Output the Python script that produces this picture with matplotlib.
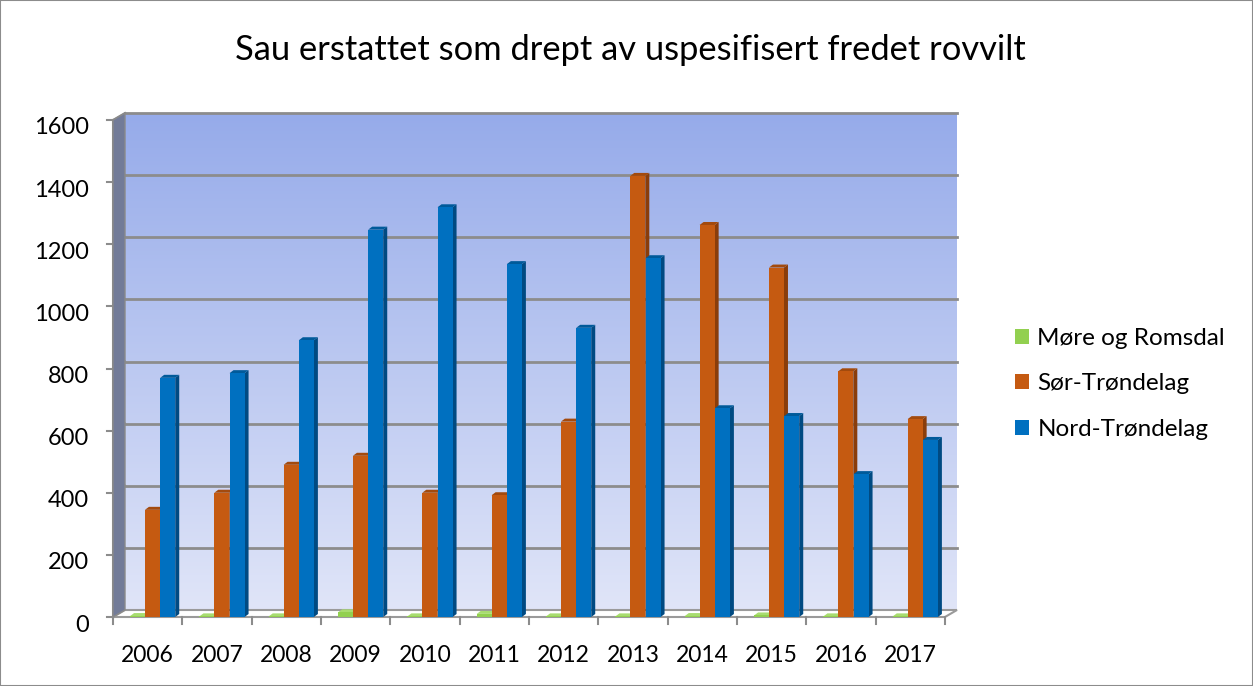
import numpy as np
import matplotlib.pyplot as plt
from matplotlib.patches import Polygon, Patch, Rectangle
from matplotlib.transforms import ScaledTranslation, IdentityTransform
from matplotlib.colors import LinearSegmentedColormap

plt.rcParams['font.family'] = ['Lato', 'DejaVu Sans']

# data
years = ['2006', '2007', '2008', '2009', '2010', '2011',
         '2012', '2013', '2014', '2015', '2016', '2017']
series_names = ['Møre og Romsdal', 'Sør-Trøndelag', 'Nord-Trøndelag']
more_romsdal = [3, 2, 2, 15, 2, 10, 2, 2, 3, 5, 2, 2]
sor_trondelag = [345, 400, 490, 519, 400, 392, 629, 1420, 1262, 1125, 791, 637]
nord_trondelag = [770, 785, 891, 1247, 1319, 1136, 931, 1155, 672, 647, 460, 570]

title = 'Sau erstattet som drept av uspesifisert fredet rovvilt'
yticks = [0, 200, 400, 600, 800, 1000, 1200, 1400, 1600]

front = ['#92D050', '#C55A11', '#0070C0']
side = ['#6E9E3A', '#8A3D0B', '#004A82']
top = ['#A8DC70', '#A34A0D', '#005A9A']

W, H = 1253, 686
fig = plt.figure(figsize=(W / 100, H / 100), dpi=100)
fig.patches.append(Rectangle((0, 0), 1, 1, transform=fig.transFigure, fill=False,
                             edgecolor='#8c8c8c', lw=1.5))

# front plane of the 3d box
ax = fig.add_axes([113 / W, 1 - 617 / H, 832 / W, 497 / H])
ax.set_xlim(-0.5, len(years) - 0.5)
ax.set_ylim(0, 1600)
ax.axis('off')

dx, dy = 12, 7  # depth offset of back wall, pixels
back = ax.transData + ScaledTranslation(dx / 100, dy / 100, fig.dpi_scale_trans)
px = IdentityTransform()

def to_px(x, y):
    return ax.transData.transform((x, y))

# back wall gradient
cmap = LinearSegmentedColormap.from_list('wall', ['#E0E5F8', '#96ABEA'])
grad = np.linspace(0, 1, 256).reshape(-1, 1)
ax.imshow(grad, cmap=cmap, origin='lower', aspect='auto',
          extent=(-0.5, len(years) - 0.5, 0, 1600), transform=back,
          clip_on=False, zorder=0)

# left side wall
x0 = -0.5
p_bl = to_px(x0, 0)
p_tl = to_px(x0, 1600)
wall = [p_bl, p_tl, p_tl + [dx, dy], p_bl + [dx, dy]]
fig.patches.append(Polygon(wall, closed=True, transform=px, facecolor='#727B98',
                           edgecolor='#8a8a8a', lw=1, zorder=1))

# floor
p_br = to_px(len(years) - 0.5, 0)
floor = [p_bl, p_br, p_br + [dx, dy], p_bl + [dx, dy]]
ax.add_patch(Polygon(floor, closed=True, transform=px, facecolor='white',
                     edgecolor='#9a9a9a', lw=1.5, zorder=1, clip_on=False))

# grid lines on back wall and side wall
for v in yticks[1:]:
    ax.plot([-0.5, len(years) - 0.5], [v, v], color='#8c8c8c', lw=2,
            transform=back, clip_on=False, zorder=1)
    p = to_px(-0.5, v)
    ax.plot([p[0], p[0] + dx], [p[1], p[1] + dy], color='#8c8c8c', lw=1.5,
            transform=px, clip_on=False, zorder=1)

# y axis ticks and labels
ax.plot([p_bl[0], p_tl[0]], [p_bl[1], p_tl[1]], color='#8c8c8c', lw=1.5,
        transform=px, clip_on=False, zorder=2)
for v in yticks:
    p = to_px(-0.5, v)
    ax.plot([p[0] - 6, p[0]], [p[1], p[1]], color='#8c8c8c', lw=1.5,
            transform=px, clip_on=False, zorder=2)
    ax.text(p[0] - 24, p[1] - 8, str(v), transform=px, ha='right', va='center',
            fontsize=17, color='black')

# x ticks and labels
for i in range(len(years) + 1):
    p = to_px(i - 0.5, 0)
    ax.plot([p[0], p[0]], [p[1], p[1] - 7], color='#8c8c8c', lw=1.5,
            transform=px, clip_on=False, zorder=2)
for i, yr in enumerate(years):
    p = to_px(i, 0)
    ax.text(p[0], p[1] - 39, yr, transform=px, ha='center', va='center',
            fontsize=16.5, color='black')

# bars
offsets = [-0.145, 0.069, 0.289]
bw = 0.217
ddx, ddy = 4, 3  # bar depth, pixels
values = [more_romsdal, sor_trondelag, nord_trondelag]
z = 3
for i in range(len(years)):
    for s in range(3):
        xc = i + offsets[s]
        v = values[s][i]
        a = to_px(xc - bw / 2, v)
        b = to_px(xc + bw / 2, v)
        c = to_px(xc + bw / 2, 0)
        ax.add_patch(Polygon([c, b, b + [ddx, ddy], c + [ddx, ddy]], closed=True,
                             transform=px, facecolor=side[s], lw=0, zorder=z,
                             clip_on=False))
        ax.add_patch(Polygon([a, b, b + [ddx, ddy], a + [ddx, ddy]], closed=True,
                             transform=px, facecolor=top[s], lw=0, zorder=z,
                             clip_on=False))
        ax.bar(xc, v, width=bw, color=front[s], zorder=z + 0.5, clip_on=False)
        z += 1

# title
fig.text(630 / W, 1 - 50 / H, title, ha='center', va='center', fontsize=24.8)

# legend
handles = [Patch(facecolor=c) for c in front]
fig.legend(handles, series_names, loc='center left',
           bbox_to_anchor=(1015 / W, 1 - 384 / H), frameon=False, fontsize=17.5,
           handlelength=0.57, handleheight=0.57, labelspacing=1.0,
           handletextpad=0.35, borderpad=0, borderaxespad=0)

fig.savefig('out.png', dpi=100)
